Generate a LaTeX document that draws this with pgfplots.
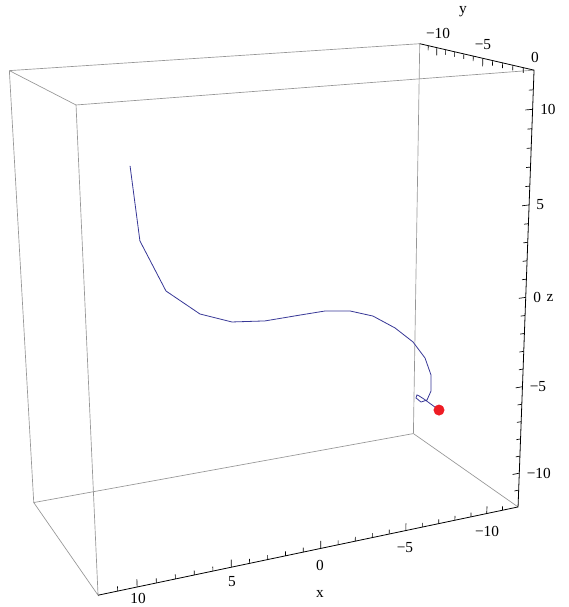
\documentclass[border=0pt]{standalone}
\usepackage{fontspec}
\setmainfont{Liberation Serif}
\usepackage{pgfplots}
\usepackage{pgfplotstable}
\pgfplotsset{compat=1.18}
\definecolor{boxgray}{RGB}{150,150,150}
\definecolor{trajblue}{RGB}{55,55,150}
\definecolor{dotred}{RGB}{238,28,36}

% projected coordinates of a table row (x y z) -> picture pixels
\newcommand{\PX}{projx(\thisrow{x},\thisrow{y},\thisrow{z})}
\newcommand{\PY}{projy(\thisrow{x},\thisrow{y},\thisrow{z})}
% ticks: #1 table, #2..#4 direction of the tick
\newcommand{\tickplot}[4]{%
  \addplot[black, line width=0.5pt, mark=none,
    quiver={
      u={projx(\thisrow{x}+(#2)*\thisrow{l},\thisrow{y}+(#3)*\thisrow{l},\thisrow{z}+(#4)*\thisrow{l})-projx(\thisrow{x},\thisrow{y},\thisrow{z})},
      v={projy(\thisrow{x}+(#2)*\thisrow{l},\thisrow{y}+(#3)*\thisrow{l},\thisrow{z}+(#4)*\thisrow{l})-projy(\thisrow{x},\thisrow{y},\thisrow{z})}}]
    table[x expr=\PX, y expr=\PY] {#1};}

% trajectory (x y z)
\pgfplotstableread{
x y z
7.65 -6 7.74
7.27 -6 3.85
5.96 -6 1.05
4.13 -6 -0.43
2.34 -6 -1.11
0.45 -6 -1.31
-1.61 -6 -1.26
-3.10 -6 -1.23
-4.61 -6 -1.43
-6.02 -6 -1.91
-7.41 -6 -2.79
-8.56 -6 -3.77
-9.35 -6 -4.83
-9.76 -6 -5.91
-9.78 -6 -6.88
-9.53 -6 -7.38
-9.14 -6 -7.44
-8.81 -6 -7.14
-8.87 -6 -6.97
-8.98 -6 -7.03
-9.33 -6 -7.29
-10.33 -6 -8.12
}\traj

\pgfplotstableread{
x y z
-10.33 -6 -8.12
}\pos

\pgfplotstableread{
x y z l
-11 0 -12 0.25
-10 0 -12 0.42
-9 0 -12 0.25
-8 0 -12 0.25
-7 0 -12 0.25
-6 0 -12 0.25
-5 0 -12 0.42
-4 0 -12 0.25
-3 0 -12 0.25
-2 0 -12 0.25
-1 0 -12 0.25
0 0 -12 0.42
1 0 -12 0.25
2 0 -12 0.25
3 0 -12 0.25
4 0 -12 0.25
5 0 -12 0.42
6 0 -12 0.25
7 0 -12 0.25
8 0 -12 0.25
9 0 -12 0.25
10 0 -12 0.42
11 0 -12 0.25
}\xticks

\pgfplotstableread{
x y z l
-12 0 -11 0.27
-12 0 -10 0.43
-12 0 -9 0.27
-12 0 -8 0.27
-12 0 -7 0.27
-12 0 -6 0.27
-12 0 -5 0.43
-12 0 -4 0.27
-12 0 -3 0.27
-12 0 -2 0.27
-12 0 -1 0.27
-12 0 0 0.43
-12 0 1 0.27
-12 0 2 0.27
-12 0 3 0.27
-12 0 4 0.27
-12 0 5 0.43
-12 0 6 0.27
-12 0 7 0.27
-12 0 8 0.27
-12 0 9 0.27
-12 0 10 0.43
-12 0 11 0.27
}\zticks

\pgfplotstableread{
x y z l
-12 -11 12 0.27
-12 -10 12 0.43
-12 -9 12 0.27
-12 -8 12 0.27
-12 -7 12 0.27
-12 -6 12 0.27
-12 -5 12 0.43
-12 -4 12 0.27
-12 -3 12 0.27
-12 -2 12 0.27
-12 -1 12 0.27
}\yticks

\begin{document}
\begin{tikzpicture}
\begin{axis}[
  scale only axis, width=426pt, height=455.25pt,
  xmin=0, xmax=568, ymin=0, ymax=607, y dir=reverse,
  axis line style={draw=none}, ticks=none, clip=false,
  declare function={
    projw(\x,\y,\z)=1-0.005275*\x-0.011583*\y-0.003571*\z;
    projx(\x,\y,\z)=(320.5-19.875*\x+4.858*\y-1.170*\z)/projw(\x,\y,\z);
    projy(\x,\y,\z)=(327.3+0.9275*\x+1.7417*\y-20.383*\z)/projw(\x,\y,\z);
  },
]
% box edges (gray)
\addplot[boxgray, line width=0.5pt, mark=none] table[x expr=\PX, y expr=\PY] {
x y z
12 -12 -12
12 -12 12
-12 -12 12
-12 -12 -12
12 -12 -12
12 0 -12
12 0 12
12 -12 12
};
\addplot[boxgray, line width=0.5pt, mark=none] table[x expr=\PX, y expr=\PY] {
x y z
12 0 12
-12 0 12
};
\addplot[boxgray, line width=0.5pt, mark=none] table[x expr=\PX, y expr=\PY] {
x y z
-12 -12 -12
-12 0 -12
};
% axes (black)
\addplot[black, line width=0.6pt, mark=none] table[x expr=\PX, y expr=\PY] {
x y z
12 0 -12
-12 0 -12
-12 0 12
-12 -12 12
};
\tickplot{\xticks}{0}{0}{1}
\tickplot{\zticks}{1}{0}{0}
\tickplot{\yticks}{0}{0}{-1}

% trajectory and current position
\addplot[trajblue, line width=0.6pt, mark=none] table[x expr=\PX, y expr=\PY] {\traj};
\addplot[only marks, mark=*, mark size=3.9pt, mark options={fill=dotred, draw=dotred}]
  table[x expr=\PX, y expr=\PY] {\pos};

% tick labels
\begin{scope}[font=\fontsize{11.5}{13}\selectfont]
\node at (axis cs:138,598) {10};
\node at (axis cs:232,582) {5};
\node at (axis cs:320,565) {0};
\node at (axis cs:405,548) {−5};
\node at (axis cs:487,531) {−10};
\node at (axis cs:438,33) {−10};
\node at (axis cs:483,45) {−5};
\node at (axis cs:535,57) {0};
\node[anchor=west, inner sep=0pt] at (axis cs:540,109.3) {10};
\node[anchor=west, inner sep=0pt] at (axis cs:536,205) {5};
\node[anchor=west, inner sep=0pt] at (axis cs:533,297.3) {0};
\node[anchor=west, inner sep=0pt] at (axis cs:529.5,386.7) {−5};
\node[anchor=west, inner sep=0pt] at (axis cs:526.5,473.2) {−10};
\node at (axis cs:320,594) {x};
\node at (axis cs:463,12) {y};
\node at (axis cs:550,298) {z};
\end{scope}
\end{axis}
\pgfresetboundingbox
\useasboundingbox (current axis.south west) rectangle (current axis.north east);
\end{tikzpicture}
\end{document}
